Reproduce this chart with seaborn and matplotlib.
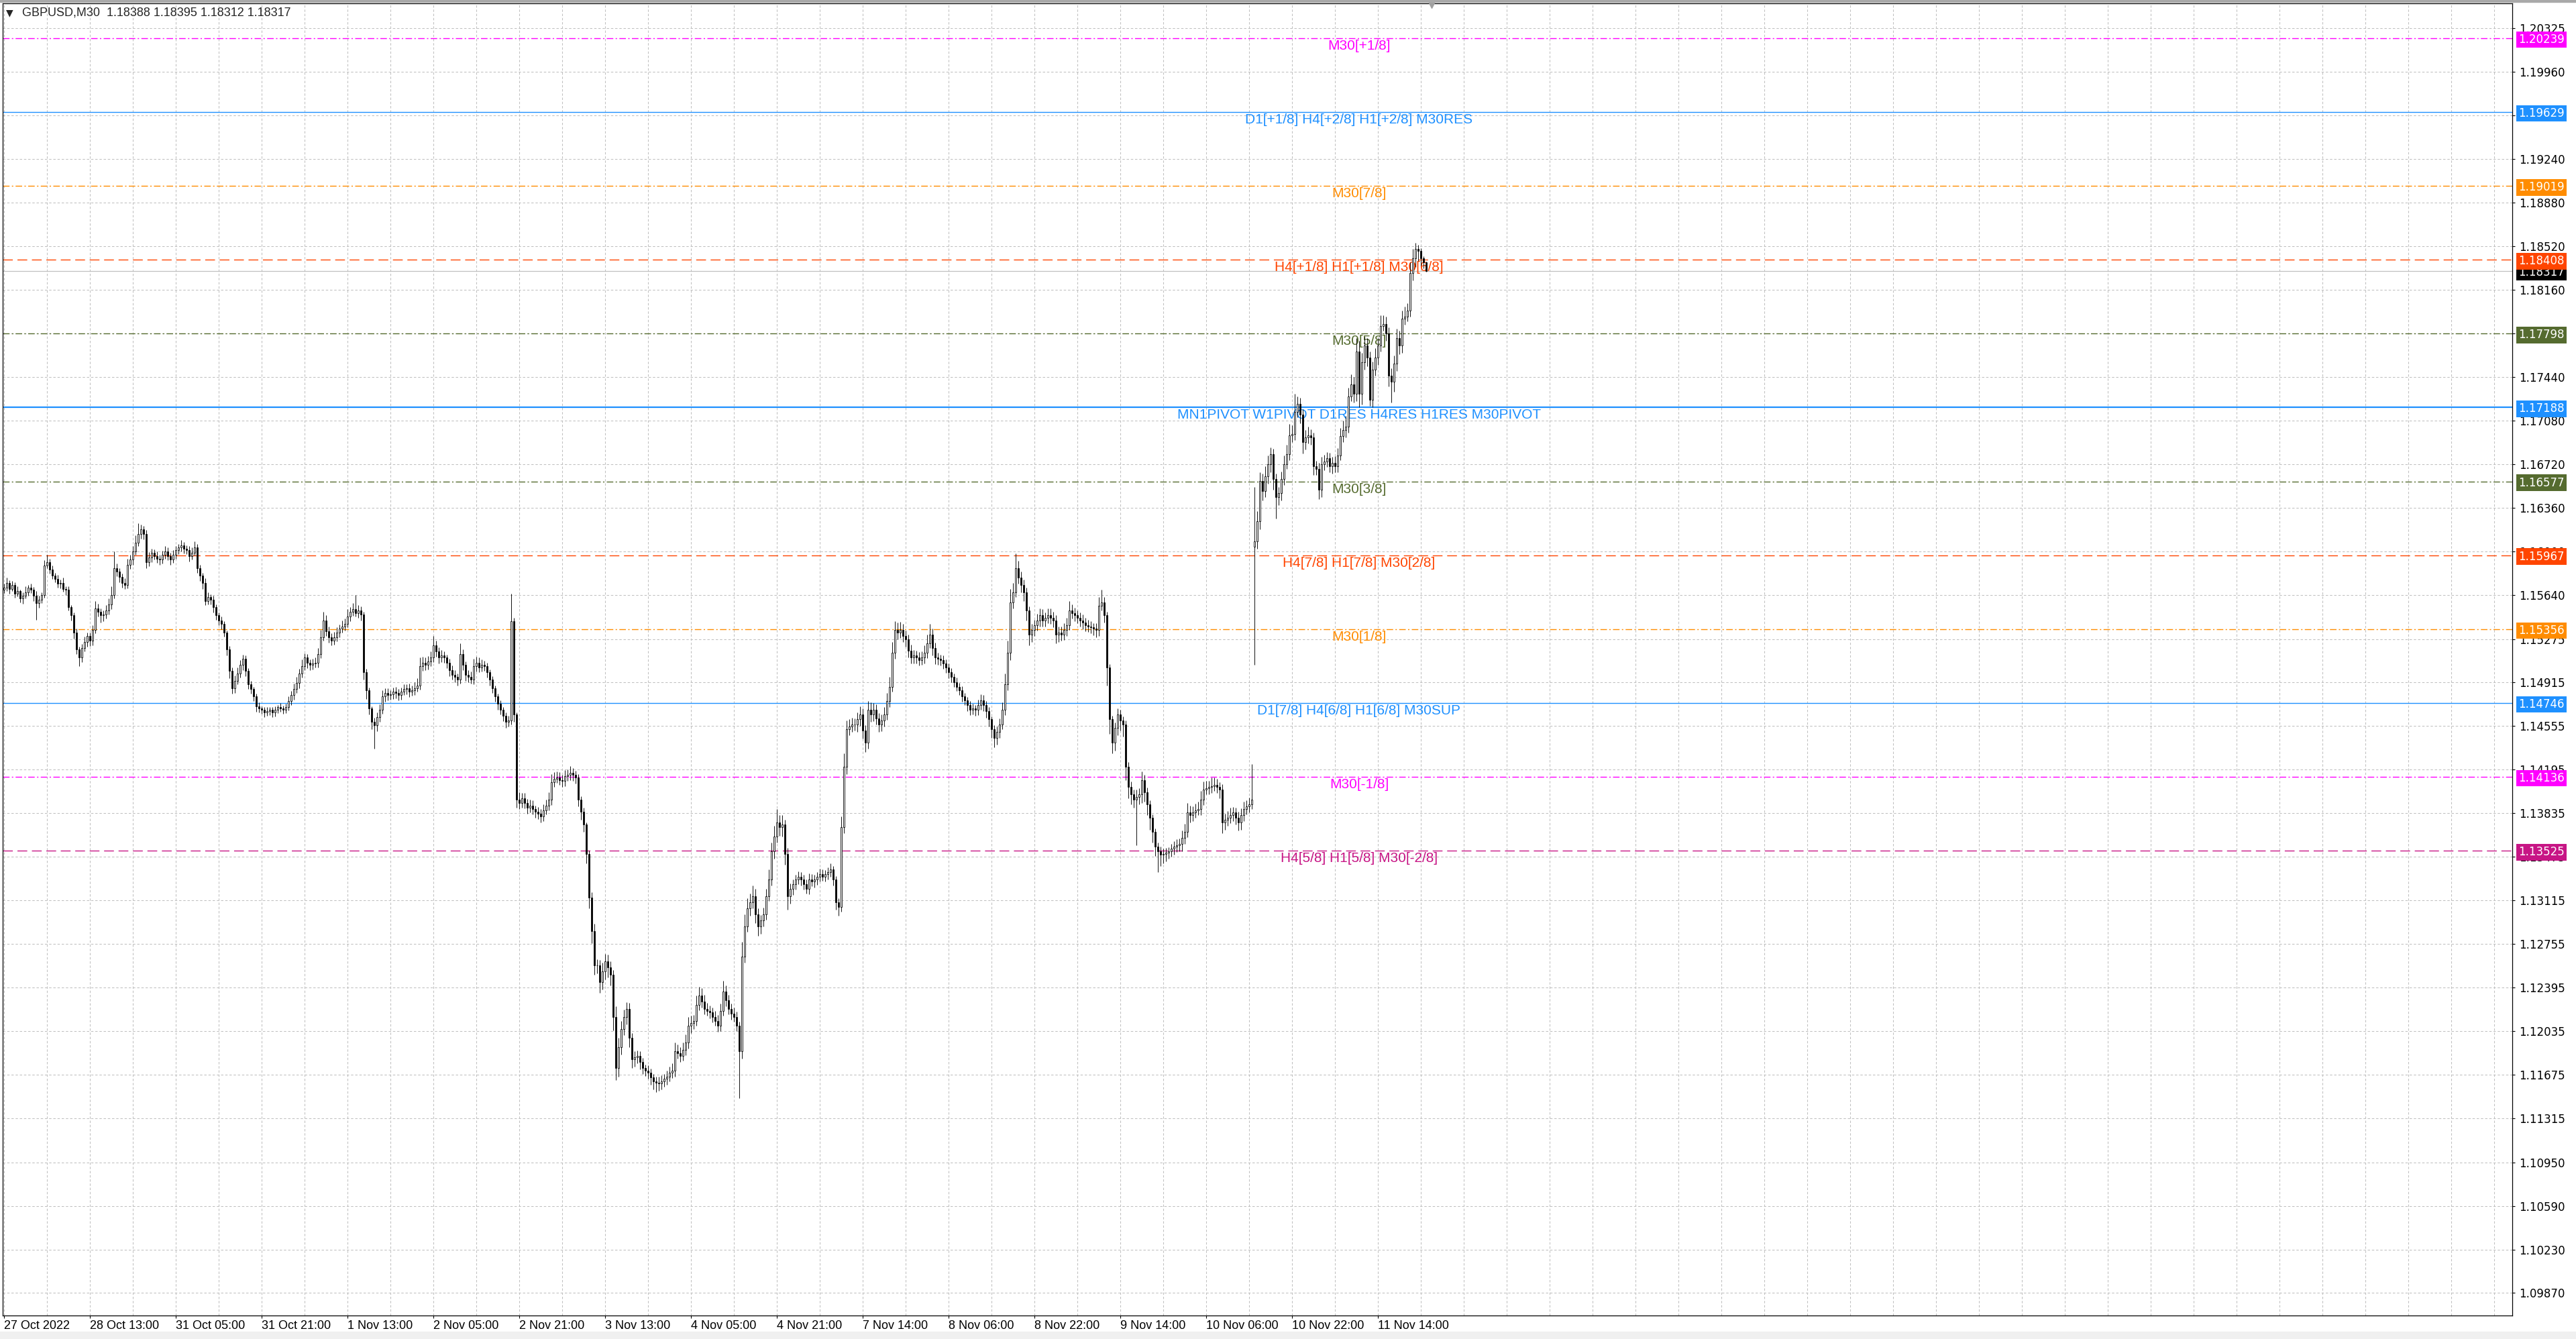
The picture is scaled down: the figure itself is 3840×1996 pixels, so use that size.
import matplotlib
matplotlib.use("Agg")
import matplotlib.pyplot as plt
import matplotlib.transforms as mtransforms
from matplotlib.patches import Rectangle
import pandas as pd
import seaborn as sns

# GBPUSD M30, bar 0 = 27 Oct 2022 21:00. Prices in points above 1.10000
closes = [
    5700, 5740, 5690, 5720, 5650, 5670, 5610, 5630, 5660, 5700, 5680, 5630, 5570, 5600, 5640, 5880, 5910, 5850, 5800, 5770,
    5730, 5740, 5690, 5680, 5540, 5470, 5330, 5190, 5120, 5200, 5250, 5300, 5260, 5350, 5530, 5500, 5470, 5480, 5510, 5560,
    5640, 5860, 5830, 5790, 5740, 5720, 5890, 5930, 6000, 6070, 6140, 6180, 6140, 5910, 5950, 5990, 5960, 5940, 5930, 5970,
    6000, 5960, 5930, 5970, 6010, 6030, 6050, 6020, 6010, 5960, 5990, 6030, 5860, 5800, 5740, 5590, 5620, 5600, 5540, 5470,
    5430, 5400, 5330, 5190, 5010, 4870, 4930, 4990, 5060, 5110, 5010, 4900, 4860, 4800, 4720, 4700, 4690, 4670, 4680, 4690,
    4670, 4690, 4710, 4700, 4690, 4710, 4760, 4810, 4860, 4910, 4990, 5050, 5120, 5080, 5060, 5070, 5080, 5150, 5290, 5430,
    5340, 5290, 5260, 5290, 5330, 5360, 5380, 5400, 5460, 5500, 5520, 5490, 5510, 5480, 5000, 4850, 4700, 4590, 4560, 4630,
    4690, 4800, 4830, 4810, 4820, 4840, 4830, 4810, 4840, 4860, 4870, 4840, 4850, 4870, 4890, 5050, 5080, 5060, 5090, 5120,
    5220, 5170, 5120, 5140, 5120, 5080, 5020, 4980, 4960, 4940, 5150, 5060, 4980, 4960, 4940, 5050, 5080, 5040, 5060, 5050,
    5000, 4940, 4870, 4800, 4740, 4690, 4640, 4590, 4600, 5420, 4650, 3950, 3920, 3960, 3920, 3880, 3900, 3870, 3850, 3830,
    3810, 3860, 3900, 3950, 4090, 4120, 4130, 4110, 4100, 4140, 4150, 4170, 4150, 4130, 3950, 3850, 3740, 3500, 3140, 2860,
    2580, 2580, 2440, 2530, 2610, 2560, 2500, 2150, 1730, 1900, 2050, 2150, 2220, 1980, 1800, 1820, 1830, 1780, 1730, 1710,
    1690, 1650, 1620, 1610, 1600, 1620, 1640, 1660, 1690, 1710, 1870, 1850, 1830, 1880, 1940, 2080, 2100, 2120, 2250, 2330,
    2280, 2220, 2200, 2190, 2150, 2120, 2080, 2200, 2360, 2290, 2220, 2180, 2150, 2080, 1870, 2650, 2900, 3050, 3100, 3150,
    3000, 2900, 2950, 3000, 3150, 3290, 3520, 3640, 3760, 3720, 3740, 3500, 3150, 3210, 3250, 3290, 3310, 3290, 3250, 3210,
    3290, 3270, 3290, 3310, 3330, 3310, 3330, 3350, 3370, 3290, 3100, 3060, 3720, 4220, 4530, 4550, 4570, 4570, 4610, 4650,
    4520, 4420, 4690, 4650, 4690, 4620, 4570, 4600, 4650, 4760, 4880, 5160, 5350, 5330, 5350, 5300, 5270, 5180, 5120, 5140,
    5120, 5100, 5120, 5160, 5240, 5310, 5200, 5120, 5110, 5100, 5070, 5040, 5000, 4960, 4920, 4880, 4850, 4800, 4770, 4730,
    4690, 4700, 4690, 4730, 4770, 4730, 4680, 4610, 4530, 4460, 4510, 4570, 4690, 4900, 5160, 5580, 5660, 5860, 5780, 5720,
    5660, 5510, 5310, 5350, 5390, 5430, 5470, 5430, 5450, 5470, 5450, 5430, 5310, 5330, 5310, 5350, 5390, 5510, 5490, 5470,
    5450, 5430, 5410, 5390, 5380, 5370, 5360, 5350, 5550, 5580, 5470, 5040, 4610, 4420, 4540, 4650, 4600, 4570, 4220, 4050,
    3990, 3950, 3970, 3990, 4110, 4010, 3910, 3800, 3680, 3560, 3520, 3490, 3500, 3510, 3520, 3540, 3560, 3570, 3580, 3630,
    3680, 3840, 3820, 3840, 3860, 3870, 3950, 4030, 4040, 4050, 4060, 4070, 4050, 4030, 3760, 3780, 3800, 3820, 3840, 3800,
    3760, 3820, 3870, 3890, 3910, 3950, 6080, 6250, 6580, 6500, 6620, 6720, 6800, 6600, 6450, 6480, 6600, 6720, 6800, 6960,
    6970, 7150, 7220, 7130, 6900, 6940, 6960, 6940, 6700, 6680, 6510, 6720, 6740, 6770, 6700, 6730, 6700, 6790, 6950, 7000,
    7030, 7280, 7380, 7300, 7650, 7300, 7560, 7700, 7600, 7250, 7500, 7600, 7700, 7860, 7880, 7800, 7450, 7400, 7550, 7760,
    7700, 7920, 7940, 7990, 8300, 8420, 8500, 8480, 8420, 8388, 8317,
]
upper_wick = [
    30, 45, 20, 35, 25, 40, 15, 30, 50, 20, 35, 25, 40, 30, 20, 45, 60, 25, 30, 20,
    35, 25, 40, 20, 30, 15, 25, 30, 20, 35, 45, 25, 30, 40, 60, 35, 25, 30, 45, 50,
    70, 140, 40, 30, 25, 35, 50, 40, 45, 60, 90, 40, 30, 35, 45, 30, 25, 40, 30, 35,
    45, 30, 25, 40, 35, 30, 45, 25, 30, 35, 40, 50, 30, 25, 20, 35, 40, 25, 30, 20,
    25, 30, 20, 15, 25, 30, 45, 50, 40, 35, 30, 25, 30, 20, 25, 30, 20, 25, 30, 20,
    25, 30, 20, 35, 25, 30, 40, 35, 45, 50, 40, 55, 35, 30, 25, 40, 45, 50, 60, 70,
    40, 35, 30, 45, 40, 35, 50, 45, 60, 40, 50, 120, 45, 35, 20, 30, 25, 20, 35, 40,
    45, 50, 40, 35, 30, 35, 40, 30, 35, 40, 30, 35, 40, 45, 60, 70, 50, 40, 45, 55,
    80, 40, 35, 45, 30, 25, 30, 35, 40, 30, 90, 40, 30, 35, 45, 60, 50, 40, 45, 35,
    30, 25, 30, 20, 25, 30, 25, 30, 40, 230, 30, 20, 60, 45, 40, 35, 50, 40, 30, 35,
    40, 50, 45, 60, 70, 55, 50, 45, 40, 50, 45, 55, 40, 35, 30, 25, 30, 20, 25, 40,
    60, 50, 45, 70, 60, 55, 50, 40, 90, 80, 70, 60, 55, 45, 40, 50, 45, 40, 35, 30,
    40, 35, 30, 40, 45, 50, 40, 45, 50, 60, 70, 55, 50, 60, 65, 70, 60, 50, 80, 70,
    60, 55, 50, 45, 40, 50, 45, 60, 90, 50, 45, 40, 50, 45, 35, 120, 100, 80, 70, 90,
    60, 50, 45, 55, 60, 80, 70, 90, 110, 60, 80, 40, 50, 45, 40, 35, 45, 40, 35, 40,
    45, 40, 35, 40, 45, 40, 35, 40, 50, 30, 25, 30, 90, 110, 70, 60, 55, 50, 60, 70,
    50, 45, 70, 60, 55, 45, 40, 50, 60, 70, 80, 90, 70, 60, 65, 50, 45, 40, 50, 45,
    40, 45, 50, 60, 70, 90, 50, 45, 40, 35, 40, 35, 30, 35, 30, 35, 30, 35, 30, 25,
    35, 40, 30, 45, 50, 40, 35, 30, 25, 30, 40, 50, 60, 90, 100, 110, 80, 120, 60, 50,
    45, 40, 35, 50, 45, 55, 60, 50, 45, 60, 55, 50, 40, 45, 50, 55, 60, 80, 50, 45,
    40, 45, 50, 40, 45, 40, 35, 45, 70, 100, 40, 30, 25, 30, 45, 50, 40, 35, 30, 40,
    45, 40, 60, 50, 70, 40, 35, 30, 25, 30, 35, 40, 45, 40, 35, 40, 45, 50, 45, 60,
    70, 80, 60, 50, 55, 60, 70, 65, 60, 55, 70, 60, 50, 40, 45, 50, 55, 60, 45, 40,
    50, 55, 60, 50, 55, 290, 450, 80, 70, 60, 80, 70, 60, 45, 40, 50, 60, 70, 80, 90,
    70, 150, 60, 50, 45, 60, 70, 50, 40, 45, 50, 60, 55, 50, 45, 50, 55, 60, 70, 80,
    90, 70, 80, 60, 110, 90, 80, 70, 60, 50, 70, 80, 60, 90, 70, 60, 50, 60, 70, 80,
    60, 70, 80, 60, 90, 80, 50, 30, 25, 20, 7,
]
lower_wick = [
    25, 30, 40, 20, 35, 25, 30, 45, 20, 30, 25, 40, 135, 35, 30, 25, 20, 35, 30, 25,
    30, 35, 25, 40, 30, 45, 50, 40, 70, 35, 30, 40, 45, 35, 30, 40, 60, 50, 35, 30,
    40, 30, 35, 45, 40, 30, 25, 35, 40, 30, 25, 35, 40, 50, 35, 40, 30, 35, 40, 30,
    30, 35, 40, 25, 30, 35, 30, 40, 35, 45, 30, 25, 40, 45, 50, 35, 30, 40, 45, 35,
    40, 45, 35, 50, 60, 45, 40, 30, 35, 40, 45, 40, 35, 40, 45, 30, 35, 40, 30, 35,
    40, 35, 30, 25, 35, 30, 25, 30, 35, 30, 40, 35, 30, 45, 40, 35, 30, 40, 35, 30,
    40, 45, 35, 30, 35, 40, 30, 35, 30, 40, 35, 30, 40, 50, 60, 70, 50, 60, 190, 45,
    40, 35, 45, 40, 35, 40, 45, 40, 35, 30, 40, 45, 35, 40, 30, 35, 40, 45, 35, 40,
    35, 40, 45, 35, 40, 45, 50, 40, 45, 50, 35, 45, 50, 40, 35, 40, 45, 40, 35, 40,
    45, 50, 40, 45, 50, 40, 45, 50, 40, 30, 60, 70, 50, 40, 45, 50, 40, 45, 50, 45,
    50, 40, 35, 40, 45, 40, 35, 40, 45, 40, 35, 40, 45, 50, 60, 70, 60, 80, 90, 100,
    80, 70, 90, 60, 70, 80, 90, 110, 100, 70, 60, 50, 60, 80, 70, 60, 50, 60, 50, 45,
    50, 60, 70, 80, 60, 50, 45, 50, 40, 45, 50, 45, 50, 40, 45, 50, 60, 50, 40, 45,
    50, 45, 40, 50, 45, 40, 50, 45, 40, 50, 45, 50, 40, 45, 390, 60, 50, 45, 60, 50,
    70, 80, 60, 50, 45, 40, 50, 60, 50, 70, 80, 90, 110, 60, 50, 45, 40, 50, 45, 40,
    45, 40, 50, 45, 40, 35, 40, 45, 40, 50, 60, 70, 40, 50, 60, 50, 45, 50, 60, 55,
    70, 80, 50, 60, 55, 50, 60, 55, 50, 45, 50, 40, 50, 60, 45, 50, 60, 55, 50, 45,
    50, 45, 40, 50, 45, 40, 60, 55, 50, 45, 40, 45, 50, 45, 40, 35, 40, 45, 40, 50,
    45, 40, 50, 45, 40, 50, 55, 60, 70, 80, 60, 50, 40, 45, 50, 60, 50, 40, 50, 60,
    70, 80, 90, 60, 50, 45, 50, 55, 50, 45, 50, 60, 70, 60, 50, 45, 50, 40, 45, 50,
    45, 50, 55, 50, 45, 50, 55, 60, 50, 40, 60, 150, 120, 90, 70, 60, 80, 100, 110, 90,
    80, 70, 380, 60, 70, 80, 90, 100, 90, 80, 170, 90, 70, 60, 50, 45, 50, 45, 50, 60,
    50, 45, 60, 50, 45, 40, 50, 45, 40, 50, 45, 40, 50, 70, 90, 60, 50, 45, 50, 60,
    70, 60, 50, 45, 50, 40, 980, 60, 70, 80, 50, 60, 70, 90, 180, 70, 60, 50, 40, 50,
    60, 50, 40, 70, 90, 60, 50, 60, 70, 50, 80, 60, 50, 45, 50, 60, 50, 45, 40, 50,
    60, 50, 40, 70, 60, 110, 90, 60, 70, 50, 60, 50, 60, 50, 40, 60, 90, 170, 80, 60,
    70, 60, 50, 40, 50, 60, 70, 80, 60, 50, 5,
]
# bars whose open is not the previous close
open_override = {0: 5680, 466: 6040}

bid_price = 1.18317
header = "GBPUSD,M30  1.18388 1.18395 1.18312 1.18317"

level_prices = [1.20239, 1.19629, 1.19019, 1.18408, 1.17798, 1.17188,
                1.16577, 1.15967, 1.15356, 1.14746, 1.14136, 1.13525]
level_names = ["M30[+1/8]", "D1[+1/8] H4[+2/8] H1[+2/8] M30RES", "M30[7/8]",
               "H4[+1/8] H1[+1/8] M30[6/8]", "M30[5/8]",
               "MN1PIVOT W1PIVOT D1RES H4RES H1RES M30PIVOT", "M30[3/8]",
               "H4[7/8] H1[7/8] M30[2/8]", "M30[1/8]", "D1[7/8] H4[6/8] H1[6/8] M30SUP",
               "M30[-1/8]", "H4[5/8] H1[5/8] M30[-2/8]"]
level_colors = ["#FF00FF", "#1E90FF", "#FF8C00", "#FF4500", "#556B2F", "#1E90FF",
                "#556B2F", "#FF4500", "#FF8C00", "#1E90FF", "#FF00FF", "#C71585"]
level_styles = ["dashdot", "solid", "dashdot", "dash", "dashdot", "pivot",
                "dashdot", "dash", "dashdot", "solid", "dashdot", "dash"]

ytick_values = [1.20325, 1.19960, 1.19600, 1.19240, 1.18880, 1.18520, 1.18160, 1.17800,
                1.17440, 1.17080, 1.16720, 1.16360, 1.16000, 1.15640, 1.15275, 1.14915,
                1.14555, 1.14195, 1.13835, 1.13475, 1.13115, 1.12755, 1.12395, 1.12035,
                1.11675, 1.11315, 1.10950, 1.10590, 1.10230, 1.09870]
xtick_labels = ["27 Oct 2022", "28 Oct 13:00", "31 Oct 05:00", "31 Oct 21:00", "1 Nov 13:00",
                "2 Nov 05:00", "2 Nov 21:00", "3 Nov 13:00", "4 Nov 05:00", "4 Nov 21:00",
                "7 Nov 14:00", "8 Nov 06:00", "8 Nov 22:00", "9 Nov 14:00", "10 Nov 06:00",
                "10 Nov 22:00", "11 Nov 14:00"]

# build OHLC
df = pd.DataFrame({"close": closes, "up": upper_wick, "dn": lower_wick})
df["open"] = df["close"].shift(1)
for k, v in open_override.items():
    df.loc[k, "open"] = v
df["high"] = df[["open", "close"]].max(axis=1) + df["up"]
df["low"] = df[["open", "close"]].min(axis=1) - df["dn"]
for col in ["open", "close", "high", "low"]:
    df[col] = 1.1 + df[col] / 1e5

sns.set_theme(style="white")
plt.rcParams["font.family"] = ["DejaVu Sans"]
plt.rcParams["lines.scale_dashes"] = False

W, H = 3840, 1996
fig = plt.figure(figsize=(W / 100, H / 100), dpi=100)
fig.patch.set_facecolor("white")
ax = fig.add_axes([4 / W, 1 - 1961 / H, (3745 - 4) / W, (1961 - 5) / H])
ax.set_facecolor("white")
ax.set_xlim(-0.5, 934.75)
ax.set_ylim(1.096841, 1.205279)

# grid
major_x = list(range(0, 513, 32))
minor_x = [k for k in range(0, 935, 16) if k not in major_x]
ax.set_xticks(major_x)
ax.set_xticks(minor_x, minor=True)
ax.set_xticklabels(xtick_labels, ha="left", family="Liberation Sans", fontsize=13)
ax.set_yticks(ytick_values)
ax.set_yticklabels([f"{v:.5f}" for v in ytick_values], fontsize=12)
ax.yaxis.tick_right()
ax.set_axisbelow(True)
ax.grid(which="both", color="#c0c0c0", lw=0.75, ls=(0, (2.5, 2)))
ax.tick_params(axis="y", which="major", right=True, left=False, length=2.9, width=0.8,
               pad=4.3, colors="black", direction="out")
ax.tick_params(axis="x", which="major", bottom=True, length=2.9, width=0.8, pad=2.4,
               colors="black", direction="out")
ax.tick_params(axis="x", which="minor", bottom=True, length=0)
for sp in ax.spines.values():
    sp.set_color("black")
    sp.set_linewidth(0.9)
    sp.set_visible(True)

# level lines and labels
dash_map = {"dashdot": (0, (7, 2.5, 1.5, 2.5)), "dash": (0, (10.5, 5)),
            "solid": "-", "pivot": "-"}
label_tr = mtransforms.offset_copy(ax.transData, fig=fig, y=-2, units="dots")
for price, name, color, style in zip(level_prices, level_names, level_colors, level_styles):
    lw = 1.6 if style == "pivot" else 1.0
    ax.axhline(price, color=color, lw=lw, ls=dash_map[style], zorder=1)
    ax.text(505, price, name, color=color, ha="center", va="top", fontsize=15,
            family="Liberation Sans", transform=label_tr, zorder=2)
ax.axhline(bid_price, color="#c0c0c0", lw=0.9, zorder=1)

# candles: thin wick, white body up, black body down
ax.vlines(df.index, df["low"], df["high"], color="black", lw=0.65, zorder=3)
bull = df["close"] >= df["open"]
ax.bar(df.index[bull], (df["close"] - df["open"])[bull], bottom=df["open"][bull],
       width=0.5, color="white", edgecolor="black", linewidth=0.6, zorder=4)
ax.bar(df.index[~bull], (df["open"] - df["close"])[~bull], bottom=df["close"][~bull],
       width=0.5, color="black", edgecolor="black", linewidth=0.6, zorder=4)

# price boxes on the right scale
box_tr = mtransforms.blended_transform_factory(fig.transFigure, ax.transData)
box_kw = dict(transform=box_tr, color="white", fontsize=12, ha="left",
              va="center_baseline", clip_on=False)
ax.text(3754 / W, bid_price, f"{bid_price:.5f}", zorder=6,
        bbox=dict(boxstyle="square,pad=0.2", fc="black", ec="none"), **box_kw)
for price, color in zip(level_prices, level_colors):
    ax.text(3754 / W, price, f"{price:.5f}", zorder=7,
            bbox=dict(boxstyle="square,pad=0.2", fc=color, ec="none"), **box_kw)

# header and window chrome
fig.text(9 / W, 1 - 19 / H, "\u25bc", fontsize=10, family="DejaVu Sans", va="center", ha="left")
fig.text(33 / W, 1 - 19 / H, header, fontsize=13, family="Liberation Sans", va="center", ha="left")
fig.patches.append(Rectangle((0, 1 - 3 / H), 1, 3 / H, transform=fig.transFigure,
                             color="#a9a9a9", zorder=0))
fig.patches.append(Rectangle((0, 0), 1, 11 / H, transform=fig.transFigure,
                             color="#f0f0f0", zorder=0))
top_tr = mtransforms.blended_transform_factory(ax.transData, fig.transFigure)
ax.plot([532], [1 - 7 / H], marker="v", ms=7, color="#a0a0a0", transform=top_tr,
        clip_on=False, zorder=8)

fig.savefig("out.png", dpi=100)
